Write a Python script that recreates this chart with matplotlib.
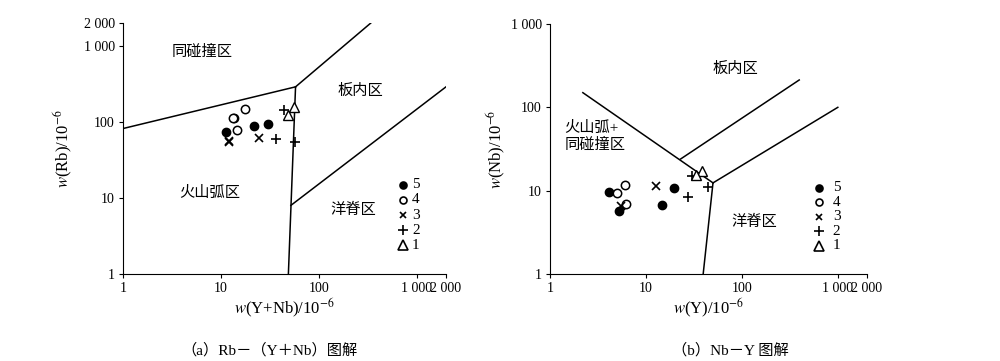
import matplotlib
matplotlib.use("Agg")
import matplotlib.pyplot as plt

plt.rcParams['font.family'] = ['Liberation Serif', 'Noto Sans CJK SC']
plt.rcParams['mathtext.fontset'] = 'stix'

# (a) Rb - (Y+Nb)
a_yn_5 = [11.2, 13.7, 21.6, 30]
a_rb_5 = [73, 113, 88, 93]
a_yn_4 = [13.2, 17.5, 14.6]
a_rb_4 = [113, 147, 78]
a_yn_3 = [12.2, 12.0, 24.3]
a_rb_3 = [54, 57, 62]
a_yn_2 = [36.5, 56.7, 44.5]
a_rb_2 = [59, 55, 144]
a_yn_1 = [56, 48]
a_rb_1 = [159, 123]

# (b) Nb - Y
b_y_5 = [4.17, 5.3, 19.5, 14.7]
b_nb_5 = [9.6, 5.7, 10.8, 6.8]
b_y_4 = [5.0, 6.1, 6.2]
b_nb_4 = [9.5, 11.6, 7.0]
b_y_3 = [12.8, 5.5]
b_nb_3 = [11.3, 6.5]
b_y_2 = [27.3, 44.6, 29.9]
b_nb_2 = [8.4, 11.1, 14.9]
b_y_1 = [38.6, 32.9]
b_nb_1 = [17.1, 15.6]

# discrimination boundaries
a_lines = [
    ([1, 58], [82, 290]),
    ([58, 340], [290, 2000]),
    ([58, 49], [290, 1]),
    ([52, 2000], [8, 290]),
]
b_lines = [
    ([2.2, 50], [150, 12.4]),
    ([23, 396], [24, 213]),
    ([50, 1000], [12.4, 100]),
    ([50, 39.5], [12.4, 1]),
]

xticks = [1, 10, 100, 1000, 2000]
xtick_labels = ['1', '10', '100', '1 000', '2 000']

fig = plt.figure(figsize=(10, 3.61), dpi=100)
ax1 = fig.add_axes([0.123, 0.241, 0.323, 0.695])
ax2 = fig.add_axes([0.55, 0.241, 0.3167, 0.6925])


def style_axis(ax, ytop, yticks, ylabels):
    ax.set_xscale('log')
    ax.set_yscale('log')
    ax.set_xlim(1, 2000)
    ax.set_ylim(1, ytop)
    ax.spines['top'].set_visible(False)
    ax.spines['right'].set_visible(False)
    ax.set_xticks(xticks)
    ax.set_xticklabels(xtick_labels)
    ax.set_yticks(yticks)
    ax.set_yticklabels(ylabels)
    ax.minorticks_off()
    ax.tick_params(direction='out', length=3, width=0.8, labelsize=10, pad=3)


def draw_points(ax, sets):
    k = dict(color='black', linestyle='none', zorder=3)
    ax.plot(sets[0][0], sets[0][1], marker='o', markersize=6, markerfacecolor='black', **k)
    ax.plot(sets[1][0], sets[1][1], marker='o', markersize=6, markerfacecolor='white', markeredgewidth=1.1, **k)
    ax.plot(sets[2][0], sets[2][1], marker='x', markersize=6, markeredgewidth=1.2, **k)
    ax.plot(sets[3][0], sets[3][1], marker='+', markersize=7, markeredgewidth=1.2, **k)
    ax.plot(sets[4][0], sets[4][1], marker='^', markersize=7, markerfacecolor='white', markeredgewidth=1.0, **k)


def draw_legend(ax, x_mark, x_text, ys):
    marks = [('o', 'black', 5), ('o', 'white', 5), ('x', 'black', 5), ('+', 'black', 7), ('^', 'white', 7)]
    names = ['5', '4', '3', '2', '1']
    for (m, fc, ms), name, y in zip(marks, names, ys):
        ax.plot([x_mark], [y], marker=m, markersize=ms, markerfacecolor=fc, color='black',
                markeredgewidth=1.2, linestyle='none', transform=ax.transAxes, clip_on=False)
        ax.text(x_text, y, name, transform=ax.transAxes, fontsize=11, va='center', ha='left')


# panel a
style_axis(ax1, 2000, [1, 10, 100, 1000, 2000], ['1', '10', '100', '1 000', '2 000'])
for xs, ys in a_lines:
    ax1.plot(xs, ys, color='black', linewidth=1.1)
draw_points(ax1, [(a_yn_5, a_rb_5), (a_yn_4, a_rb_4), (a_yn_3, a_rb_3),
                  (a_yn_2, a_rb_2), (a_yn_1, a_rb_1)])
ax1.text(0.245, 0.886, '同碰撞区', transform=ax1.transAxes, fontsize=11, ha='center', va='center')
ax1.text(0.734, 0.73, '板内区', transform=ax1.transAxes, fontsize=11, ha='center', va='center')
ax1.text(0.269, 0.323, '火山弧区', transform=ax1.transAxes, fontsize=11, ha='center', va='center')
ax1.text(0.712, 0.255, '洋脊区', transform=ax1.transAxes, fontsize=11, ha='center', va='center')
draw_legend(ax1, 0.867, 0.895, [0.355, 0.295, 0.235, 0.175, 0.115])
ax1.set_ylabel(r'$w$(Rb)/10$^{-6}$', fontsize=12, labelpad=6)
ax1.set_xlabel(r'$w$(Y+Nb)/10$^{-6}$', fontsize=12, labelpad=1)

# panel b
style_axis(ax2, 1000, [1, 10, 100, 1000], ['1', '10', '100', '1 000'])
for xs, ys in b_lines:
    ax2.plot(xs, ys, color='black', linewidth=1.1)
draw_points(ax2, [(b_y_5, b_nb_5), (b_y_4, b_nb_4), (b_y_3, b_nb_3),
                  (b_y_2, b_nb_2), (b_y_1, b_nb_1)])
ax2.text(0.584, 0.82, '板内区', transform=ax2.transAxes, fontsize=11, ha='center', va='center')
ax2.text(0.046, 0.55, '火山弧+\n同碰撞区', transform=ax2.transAxes, fontsize=11, ha='left', va='center',
         linespacing=1.3)
ax2.text(0.645, 0.21, '洋脊区', transform=ax2.transAxes, fontsize=11, ha='center', va='center')
draw_legend(ax2, 0.849, 0.893, [0.345, 0.287, 0.229, 0.171, 0.113])
ax2.set_ylabel(r'$w$(Nb)/10$^{-6}$', fontsize=12, labelpad=2)
ax2.set_xlabel(r'$w$(Y)/10$^{-6}$', fontsize=12, labelpad=1)

fig.text(0.27, 0.03, '（a）Rb－（Y＋Nb）图解', fontsize=11, ha='center', va='center')
fig.text(0.73, 0.03, '（b）Nb－Y 图解', fontsize=11, ha='center', va='center')

fig.savefig('out.png', dpi=100, facecolor='white')
